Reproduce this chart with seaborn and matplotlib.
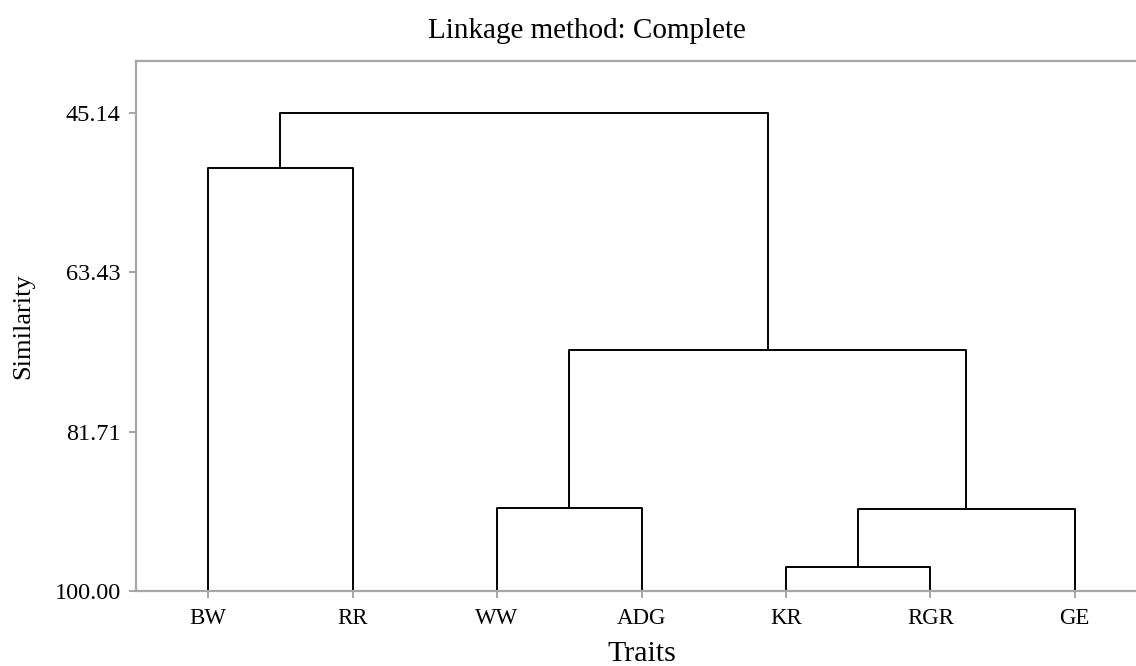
import matplotlib
matplotlib.use("Agg")
import matplotlib.pyplot as plt
import seaborn as sns
import pandas as pd

# ---- data ----
leaves = ["BW", "RR", "WW", "ADG", "KR", "RGR", "GE"]
# merges: (left cluster, right cluster, similarity level); clusters 7.. are created in order
merge_left = ["KR", "WW", "C7", "BW", "C8", "C10"]
merge_right = ["RGR", "ADG", "GE", "RR", "C9", "C11"]
merge_sim = [97.30, 90.44, 90.55, 51.41, 72.34, 45.14]
ytick_vals = [45.14, 63.43, 81.71, 100.00]
title = "Linkage method: Complete"

# ---- build dendrogram link segments from the tree ----
pos = {name: float(i) for i, name in enumerate(leaves)}
height = {name: 100.0 for name in leaves}
rows = []
for k, (a, b, s) in enumerate(zip(merge_left, merge_right, merge_sim)):
    xa, xb = pos[a], pos[b]
    for x, y in [(xa, height[a]), (xa, s), (xb, s), (xb, height[b])]:
        rows.append({"link": k, "x": x, "y": y})
    cname = f"C{7 + k}"
    pos[cname] = (xa + xb) / 2
    height[cname] = s
df = pd.DataFrame(rows)

sns.set_theme(style="white")
plt.rcParams["font.family"] = ["Liberation Serif", "DejaVu Serif"]
plt.rcParams["text.color"] = "black"
plt.rcParams["axes.labelcolor"] = "black"

fig = plt.figure(figsize=(11.36, 6.66), dpi=100)
W, H = 1136, 666
ax = fig.add_axes([136 / W, 75 / H, 1011 / W, 530 / H])

sns.lineplot(data=df, x="x", y="y", units="link", estimator=None, sort=False,
             color="black", linewidth=1.4, ax=ax, legend=False)

ax.set_xlim(-0.5, len(leaves) - 0.5)
ax.set_ylim(100, 39.17)
ax.set_xticks(range(len(leaves)))
ax.set_xticklabels(leaves)
ax.set_yticks(ytick_vals)
ax.set_yticklabels([f"{v:.2f}" for v in ytick_vals])

grey = "#a6a6a6"
for side in ["left", "bottom", "top", "right"]:
    ax.spines[side].set_color(grey)
    ax.spines[side].set_linewidth(1.6)
ax.tick_params(axis="both", which="major", direction="out", length=5, width=1.4,
               color=grey, labelcolor="black", left=True, bottom=True)
ax.tick_params(axis="y", pad=6, labelsize=17.5)
ax.tick_params(axis="x", pad=7, labelsize=16.5)

ax.set_xlabel("Traits", fontsize=21.5, va="center", ha="center", color="black")
ax.set_ylabel("Similarity", fontsize=19, va="center", ha="center", color="black")
ax.xaxis.set_label_coords(0.5, (591 - 654) / 530)
ax.yaxis.set_label_coords((23 - 136) / 1011, 0.5)

fig.text(587 / W, 1 - 31 / H, title, fontsize=21, ha="center", va="center", color="black")

fig.savefig("out.png", dpi=100)
